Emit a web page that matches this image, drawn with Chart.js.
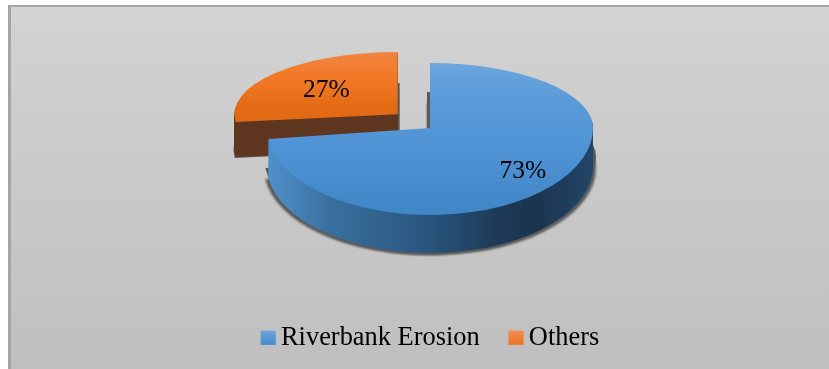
<!DOCTYPE html>
<html><head><meta charset="utf-8">
<style>html,body{margin:0;padding:0;background:#fff}canvas{display:block}</style>
<script src="https://cdn.jsdelivr.net/npm/chart.js@4/dist/chart.umd.min.js"></script>
</head><body><canvas id="c" width="829" height="369"></canvas>
<script>
const categories = ['Riverbank Erosion', 'Others'];
const shares = [73, 27];
const baseColors = ['#5b9bd5', '#ed7d31'];

const FONT = '"Liberation Serif","Times New Roman",serif';
const APEX_Y = 128, K_UP = 65/163, K_DOWN = 87/163, K_UP_ORANGE = 62/163, LIFT_ORANGE = -3;

function piece(ctx, el, d, dx, fill, extra, kUp) {
  // Tilted disc: the parts above and below the apex have slightly different foreshortening.
  const W = 829;
  [[kUp || K_UP, -1000, APEX_Y + d + 1000], [K_DOWN, APEX_Y + d, 1000]].forEach(([k, y0, h]) => {
    ctx.save();
    ctx.beginPath(); ctx.rect(0, y0, W, h); ctx.clip();
    if (extra) ctx.filter = extra;
    ctx.translate(dx, APEX_Y + d); ctx.scale(1, k); ctx.translate(0, -el.y);
    const bg = fill(ctx, sy => el.y + (sy - APEX_Y - d) / k);
    const face = Object.create(el, {options: {value: Object.assign({}, el.options, {backgroundColor: bg, borderWidth: 0}), writable: true}});
    face.draw(ctx);
    ctx.restore();
  });
}
const flat = c => () => c;
const vert = (stops) => (ctx, u) => {
  const a = stops[0][0], b = stops[stops.length-1][0];
  const g = ctx.createLinearGradient(0, u(a), 0, u(b));
  stops.forEach(s => g.addColorStop((s[0]-a)/(b-a), s[1]));
  return g;
};
const horiz = (stops) => (ctx) => {
  const a = stops[0][0], b = stops[stops.length-1][0];
  const g = ctx.createLinearGradient(a, 0, b, 0);
  stops.forEach(s => g.addColorStop((s[0]-a)/(b-a), s[1]));
  return g;
};
const blueTop = vert([[63,'#6ca6dd'],[100,'#5a9bda'],[150,'#4f93d4'],[215,'#4085c6']]);
const orangeTop = vert([[52,'#ee8b52'],[85,'#f47a28'],[120,'#e36a14']]);
const blueWall = horiz([[268,'#4f90cb'],[330,'#3a709f'],[420,'#2a5780'],[500,'#1d3a57'],[535,'#1b344e'],[594,'#234668']]);

const solid3d = {
  id: 'solid3d',
  beforeDraw(chart) {
    const ctx = chart.ctx;
    ctx.save();
    ctx.fillStyle = '#fff'; ctx.fillRect(0, 0, 829, 369);
    const g = ctx.createLinearGradient(0, 5, 0, 369);
    g.addColorStop(0, '#d3d3d3'); g.addColorStop(1, '#bfbfbf');
    ctx.fillStyle = g; ctx.fillRect(8, 5, 821, 364);
    ctx.fillStyle = '#a5a5a5'; ctx.fillRect(8, 5, 821, 2); ctx.fillRect(8, 5, 3, 364);
    ctx.restore();
  },
  beforeDatasetDraw(chart) {
    const ctx = chart.ctx, [blue, orange] = chart.getDatasetMeta(0).data;
    // orange slice: shadow, cut wall, top
    piece(ctx, orange, LIFT_ORANGE + 31, 2, flat('#5a5a5a'), 'blur(0.7px)', K_UP_ORANGE);
    piece(ctx, orange, LIFT_ORANGE + 36, -1, flat('#5a5a5a'), 'blur(0.7px)', K_UP_ORANGE);
    for (let d = 35; d >= 1; d--) piece(ctx, orange, LIFT_ORANGE + d, 0, flat('#5f3620'), null, K_UP_ORANGE);
    piece(ctx, orange, LIFT_ORANGE, 0, orangeTop, null, K_UP_ORANGE);
    // blue slice: shadow, wall, top
    [-3, 3].forEach(dx => {
      piece(ctx, blue, 29, dx, flat('#5a5a5a'), 'blur(0.7px)');
      piece(ctx, blue, 40, dx, flat('#5a5a5a'), 'blur(1px)');
    });
    for (let d = 38; d >= 1; d--) piece(ctx, blue, d, 0, blueWall);
    piece(ctx, blue, 0, 0, blueTop);
    // value labels
    const total = shares.reduce((a, b) => a + b, 0);
    const spots = [[0.76, K_DOWN, 0], [0.583, K_UP_ORANGE, LIFT_ORANGE]];
    ctx.save();
    ctx.fillStyle = '#000'; ctx.font = '25.5px ' + FONT;
    ctx.textAlign = 'center'; ctx.textBaseline = 'middle';
    [blue, orange].forEach((el, i) => {
      const mid = (el.startAngle + el.endAngle) / 2, off = (el.options.offset || 0) / 4;
      const ux = Math.cos(mid) * (off + el.outerRadius * spots[i][0]);
      const uy = Math.sin(mid) * (off + el.outerRadius * spots[i][0]);
      ctx.fillText(Math.round(shares[i] / total * 100) + '%', el.x + ux, APEX_Y + spots[i][2] + uy * spots[i][1]);
    });
    ctx.restore();
    return false;
  },
  afterDraw(chart) {
    const ctx = chart.ctx, boxes = chart.legend.legendHitBoxes;
    const tops = [['#6ca6dd', '#4289ca'], ['#f08d55', '#ee7320']];
    boxes.forEach((b, i) => {
      const y = b.top + (b.height - 14) / 2;
      const g = ctx.createLinearGradient(0, y, 0, y + 14);
      g.addColorStop(0, tops[i][0]); g.addColorStop(1, tops[i][1]);
      ctx.fillStyle = g; ctx.fillRect(b.left, y, 15, 14);
    });
  }
};

new Chart(document.getElementById('c'), {
  type: 'pie',
  data: { labels: categories, datasets: [{ data: shares, backgroundColor: baseColors, borderWidth: 0, offset: [0, 172] }] },
  plugins: [solid3d],
  options: {
    responsive: false, animation: false, radius: 163,
    layout: { padding: { left: 31, bottom: 8 } },
    plugins: {
      tooltip: { enabled: false },
      legend: { position: 'bottom', labels: { boxWidth: 7, boxHeight: 14, padding: 29, color: '#000', font: { family: FONT, size: 26.4 } } }
    }
  }
});
</script></body></html>
